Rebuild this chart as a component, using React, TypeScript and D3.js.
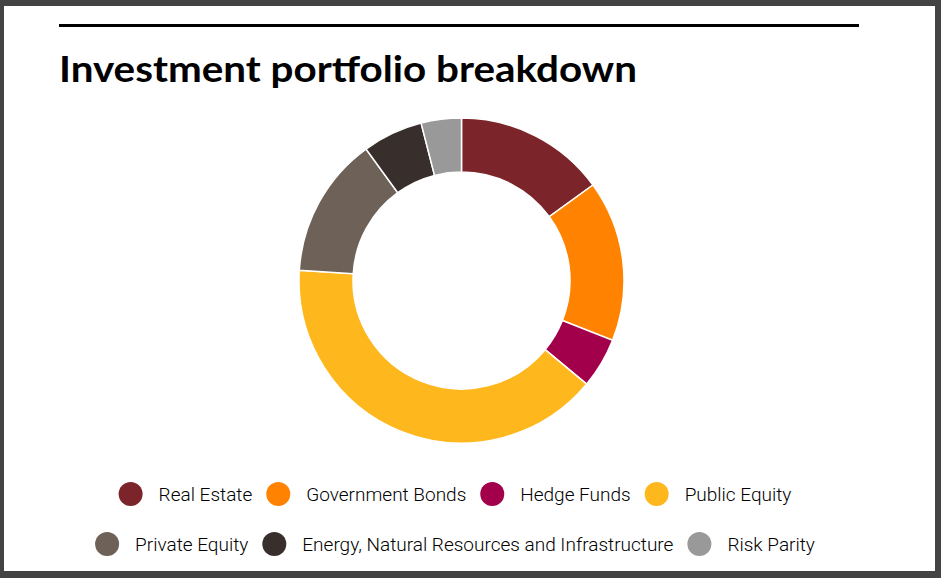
import React, { useMemo } from "react";
import * as d3 from "d3";

// Portfolio allocation, in percent
const categories = [
  "Real Estate",
  "Government Bonds",
  "Hedge Funds",
  "Public Equity",
  "Private Equity",
  "Energy, Natural Resources and Infrastructure",
  "Risk Parity",
];
const values = [15, 16, 5, 40, 14, 6, 4];
const colors = [
  "#7b2429",
  "#ff8300",
  "#a3004b",
  "#ffb71e",
  "#6d6158",
  "#382f2d",
  "#999999",
];
// legend rows (indices into categories)
const legendRows = [
  [0, 1, 2, 3],
  [4, 5, 6],
];

const width = 941;
const height = 578;
const legendFont = "300 19px Roboto";

const measure = (() => {
  let ctx: CanvasRenderingContext2D | null = null;
  return (txt: string) => {
    if (!ctx) ctx = document.createElement("canvas").getContext("2d");
    if (!ctx) return txt.length * 8.5;
    ctx.font = legendFont;
    return ctx.measureText(txt).width;
  };
})();

const Donut = () => {
  const cx = 461.5;
  const cy = 280.5;
  const outerRadius = 162.5;
  const innerRadius = 108.5;

  const arcs = useMemo(
    () =>
      d3
        .pie<number>()
        .sort(null)
        .value((d) => d)(values),
    []
  );
  const arc = d3
    .arc<d3.PieArcDatum<number>>()
    .innerRadius(innerRadius)
    .outerRadius(outerRadius);

  return (
    <g transform={`translate(${cx},${cy})`}>
      {arcs.map((d, i) => (
        <path
          key={i}
          d={arc(d) || ""}
          fill={colors[i]}
          stroke="#fff"
          strokeWidth={1.5}
        />
      ))}
    </g>
  );
};

const Legend = () => {
  const r = 12;
  const gapText = 16;
  const gapItem = 14;
  const center = 455;
  const rowY = [494, 544];

  return (
    <g>
      {legendRows.map((row, ri) => {
        const widths = row.map((i) => 2 * r + gapText + measure(categories[i]));
        const total = d3.sum(widths) + gapItem * (row.length - 1);
        let x = center - total / 2;
        return row.map((i, k) => {
          const x0 = x;
          x += widths[k] + gapItem;
          return (
            <g key={i} transform={`translate(${x0},${rowY[ri]})`}>
              <circle cx={r} cy={0} r={r} fill={colors[i]} />
              <text
                x={2 * r + gapText}
                y={0}
                dy="0.35em"
                fontFamily="Roboto"
                fontWeight={300}
                fontSize={19}
                fill="#000"
              >
                {categories[i]}
              </text>
            </g>
          );
        });
      })}
    </g>
  );
};

export default function App() {
  return (
    <div style={{ position: "fixed", left: 0, top: 0 }}>
      <svg width={width} height={height} style={{ display: "block" }}>
        <rect width={width} height={height} fill="#434343" />
        <rect x={4} y={6} width={931} height={565} fill="#fff" />
        <rect x={59} y={24} width={800} height={3} fill="#000" />
        <text
          x={59}
          y={82}
          fontFamily="Lato"
          fontWeight={700}
          fontSize={37}
          fill="#000"
          textLength={578}
          lengthAdjust="spacingAndGlyphs"
        >
          Investment portfolio breakdown
        </text>
        <Donut />
        <Legend />
      </svg>
    </div>
  );
}
